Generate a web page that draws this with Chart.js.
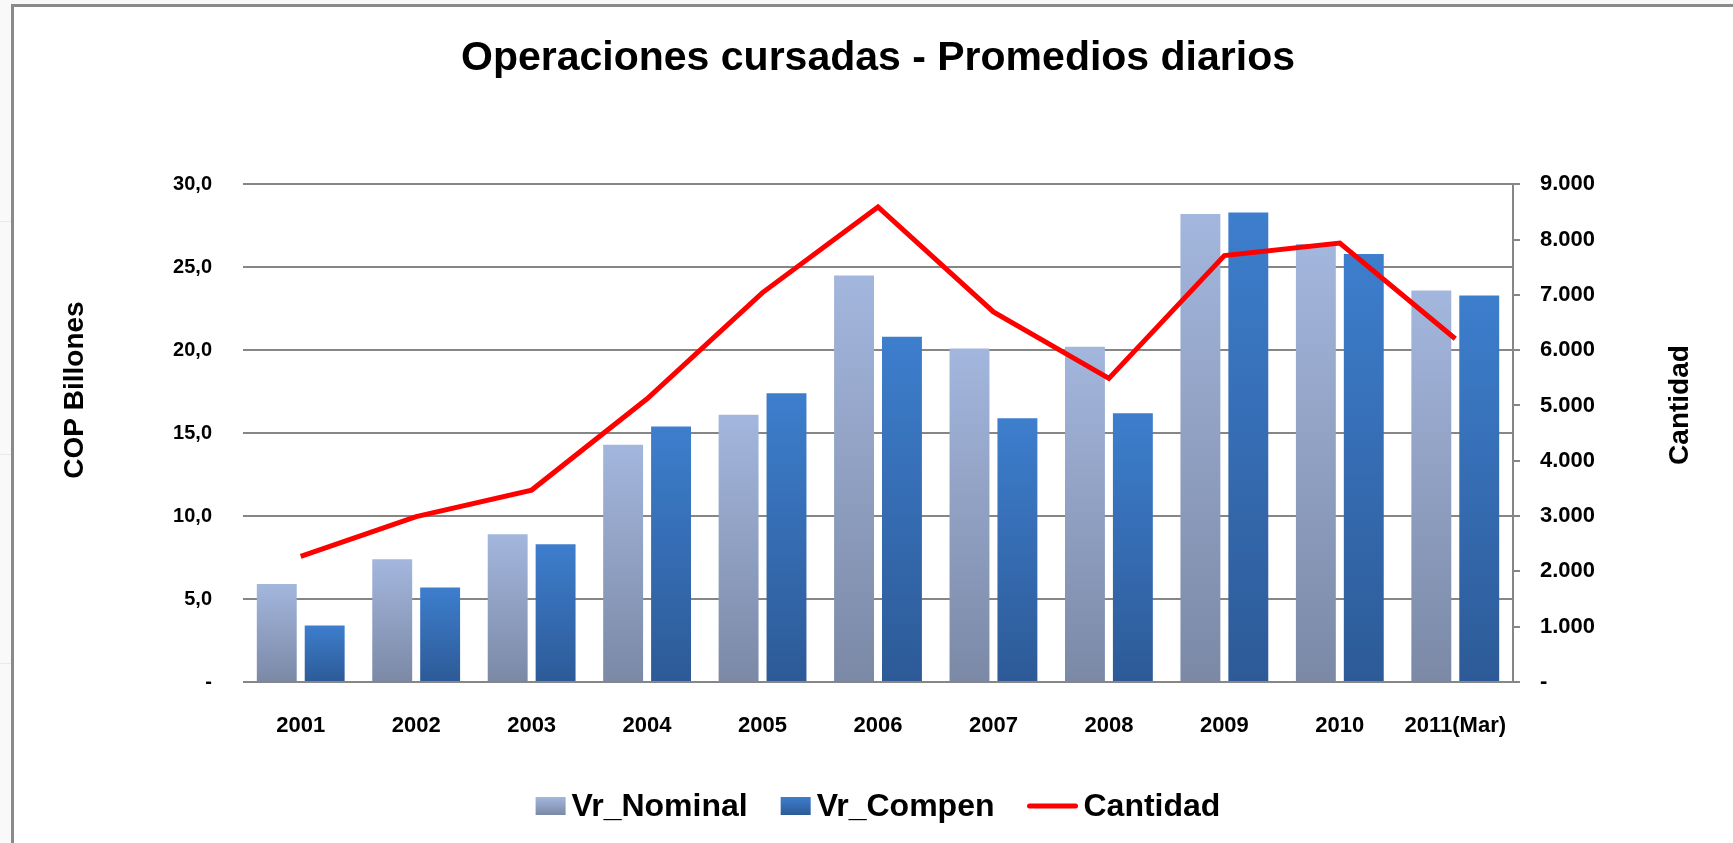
<!DOCTYPE html>
<html>
<head>
<meta charset="utf-8">
<title>Operaciones cursadas - Promedios diarios</title>
<script src="https://cdn.jsdelivr.net/npm/chart.js@4.4.1/dist/chart.umd.min.js"></script>
<style>
  html, body { margin: 0; padding: 0; background: #fff; }
  #wrap { position: relative; width: 1733px; height: 843px; }
</style>
</head>
<body>
<div id="wrap"><canvas id="opsChart"></canvas></div>
<script>
/*************************************************
 * 1. Data
 *************************************************/
const years = ["2001", "2002", "2003", "2004", "2005", "2006", "2007", "2008", "2009", "2010", "2011(Mar)"];
const vrNominal = [5.9, 7.4, 8.9, 14.3, 16.1, 24.5, 20.1, 20.2, 28.2, 26.4, 23.6];
const vrCompen = [3.4, 5.7, 8.3, 15.4, 17.4, 20.8, 15.9, 16.2, 28.3, 25.8, 23.3];
const cantidad = [2270, 2990, 3470, 5120, 7040, 8590, 6690, 5490, 7710, 7935, 6205];

const leftTicks = { min: 0, max: 30, step: 5 };
const rightTicks = { min: 0, max: 9000, step: 1000 };

const nominalColors = ["#a3b6dd", "#7b89a6"];
const compenColors = ["#3d7ecd", "#2d5a97"];
const lineColor = "#ff0000";
const gridColor = "#868686";
const sans = "'Liberation Sans', Arial, sans-serif";

/*************************************************
 * 2. Helpers
 *************************************************/
function barGradient(colors) {
    return (c) => {
        const chart = c.chart;
        const y = chart.scales && chart.scales.y;
        if (!y || c.type !== "data") return colors[0];
        const top = y.getPixelForValue(c.raw);
        const base = y.getPixelForValue(0);
        if (!isFinite(top) || !isFinite(base) || top === base) return colors[0];
        const g = chart.ctx.createLinearGradient(0, top, 0, base);
        g.addColorStop(0, colors[0]);
        g.addColorStop(1, colors[1]);
        return g;
    };
}

function thousands(v) {
    return String(v).replace(/\B(?=(\d{3})+(?!\d))/g, ".");
}

/*************************************************
 * 3. Plugins: frame, axis titles, legend
 *************************************************/
const framePlugin = {
    id: "frame",
    beforeDraw(chart) {
        const ctx = chart.ctx;
        const w = chart.width, h = chart.height;
        ctx.save();
        ctx.fillStyle = "#f9f9f9";
        ctx.fillRect(0, 0, w, h);
        ctx.fillStyle = "#e9e9e9";
        [221, 454, 663].forEach(yy => ctx.fillRect(0, yy, 11, 1));
        ctx.fillStyle = "#ffffff";
        ctx.fillRect(12, 5, w, h);
        ctx.fillStyle = "#8a8a8a";
        ctx.fillRect(11, 4, 3, h);
        ctx.fillRect(11, 4, w, 3);
        ctx.restore();
    }
};

const axisTitlePlugin = {
    id: "axisTitles",
    afterDraw(chart) {
        const ctx = chart.ctx;
        ctx.save();
        ctx.fillStyle = "#000";
        ctx.font = "bold 28px " + sans;
        ctx.textAlign = "center";
        ctx.textBaseline = "alphabetic";
        [["COP Billones", 83, 390], ["Cantidad", 1688, 405]].forEach(([t, x, y]) => {
            ctx.save();
            ctx.translate(x, y);
            ctx.rotate(-Math.PI / 2);
            ctx.fillText(t, 0, 0);
            ctx.restore();
        });
        ctx.restore();
    }
};

const legendPlugin = {
    id: "bottomLegend",
    afterDraw(chart) {
        const ctx = chart.ctx;
        const items = [
            { label: "Vr_Nominal", kind: "box", colors: nominalColors },
            { label: "Vr_Compen", kind: "box", colors: compenColors },
            { label: "Cantidad", kind: "line", color: lineColor }
        ];
        const baseline = 816;
        ctx.save();
        ctx.font = "bold 32px " + sans;
        const markW = { box: 30, line: 50 };
        const gap = 6, spacing = 33;
        let total = 0;
        items.forEach((it, i) => {
            it.tw = ctx.measureText(it.label).width;
            total += markW[it.kind] + gap + it.tw + (i < items.length - 1 ? spacing : 0);
        });
        const area = chart.chartArea;
        let x = (area.left + area.right) / 2 - total / 2;
        items.forEach(it => {
            if (it.kind === "box") {
                const g = ctx.createLinearGradient(0, 797, 0, 815);
                g.addColorStop(0, it.colors[0]);
                g.addColorStop(1, it.colors[1]);
                ctx.fillStyle = g;
                ctx.fillRect(x, 797, 30, 18);
            } else {
                ctx.strokeStyle = it.color;
                ctx.lineWidth = 5;
                ctx.lineCap = "round";
                ctx.beginPath();
                ctx.moveTo(x + 2, 806);
                ctx.lineTo(x + 48, 806);
                ctx.stroke();
            }
            x += markW[it.kind] + gap;
            ctx.fillStyle = "#000";
            ctx.textBaseline = "alphabetic";
            ctx.fillText(it.label, x, baseline);
            x += it.tw + spacing;
        });
        ctx.restore();
    }
};

/*************************************************
 * 4. Chart
 *************************************************/
new Chart(document.getElementById("opsChart"), {
    type: "bar",
    data: {
        labels: years,
        datasets: [
            {
                type: "line",
                label: "Cantidad",
                data: cantidad,
                yAxisID: "y1",
                borderColor: lineColor,
                borderWidth: 5,
                pointRadius: 0,
                tension: 0,
                fill: false,
                order: 0
            },
            {
                label: "Vr_Nominal",
                data: vrNominal,
                yAxisID: "y",
                backgroundColor: barGradient(nominalColors),
                categoryPercentage: 0.83,
                barPercentage: 0.833,
                order: 1
            },
            {
                label: "Vr_Compen",
                data: vrCompen,
                yAxisID: "y",
                backgroundColor: barGradient(compenColors),
                categoryPercentage: 0.83,
                barPercentage: 0.833,
                order: 1
            }
        ]
    },
    options: {
        responsive: true,
        maintainAspectRatio: false,
        animation: false,
        layout: { padding: 0 },
        plugins: {
            legend: { display: false },
            tooltip: { enabled: false },
            title: {
                display: true,
                fullSize: false,
                text: "Operaciones cursadas - Promedios diarios",
                color: "#000",
                font: { family: sans, weight: "bold", size: 41 },
                padding: { top: 34, bottom: 101 }
            }
        },
        scales: {
            x: {
                grid: { display: false },
                border: { display: false },
                ticks: { color: "#000", font: { family: sans, weight: "bold", size: 22 }, padding: 23, maxRotation: 0, autoSkip: false },
                afterFit: s => { s.height = 161; }
            },
            y: {
                position: "left",
                min: leftTicks.min,
                max: leftTicks.max,
                grid: { color: gridColor, lineWidth: 2, drawTicks: false },
                border: { display: false },
                ticks: {
                    stepSize: leftTicks.step,
                    color: "#000",
                    font: { family: sans, weight: "bold", size: 20 },
                    padding: 31,
                    callback: v => v === 0 ? "-" : v.toFixed(1).replace(".", ",")
                },
                afterFit: s => { s.width = 243; }
            },
            y1: {
                position: "right",
                min: rightTicks.min,
                max: rightTicks.max,
                grid: { drawOnChartArea: false, color: gridColor, lineWidth: 2, tickLength: 7 },
                border: { display: true, color: gridColor, width: 2 },
                ticks: {
                    stepSize: rightTicks.step,
                    color: "#000",
                    font: { family: sans, weight: "bold", size: 22 },
                    padding: 20,
                    callback: v => v === 0 ? "-" : thousands(v)
                },
                afterFit: s => { s.width = 220; }
            }
        }
    },
    plugins: [framePlugin, axisTitlePlugin, legendPlugin]
});
</script>
</body>
</html>
